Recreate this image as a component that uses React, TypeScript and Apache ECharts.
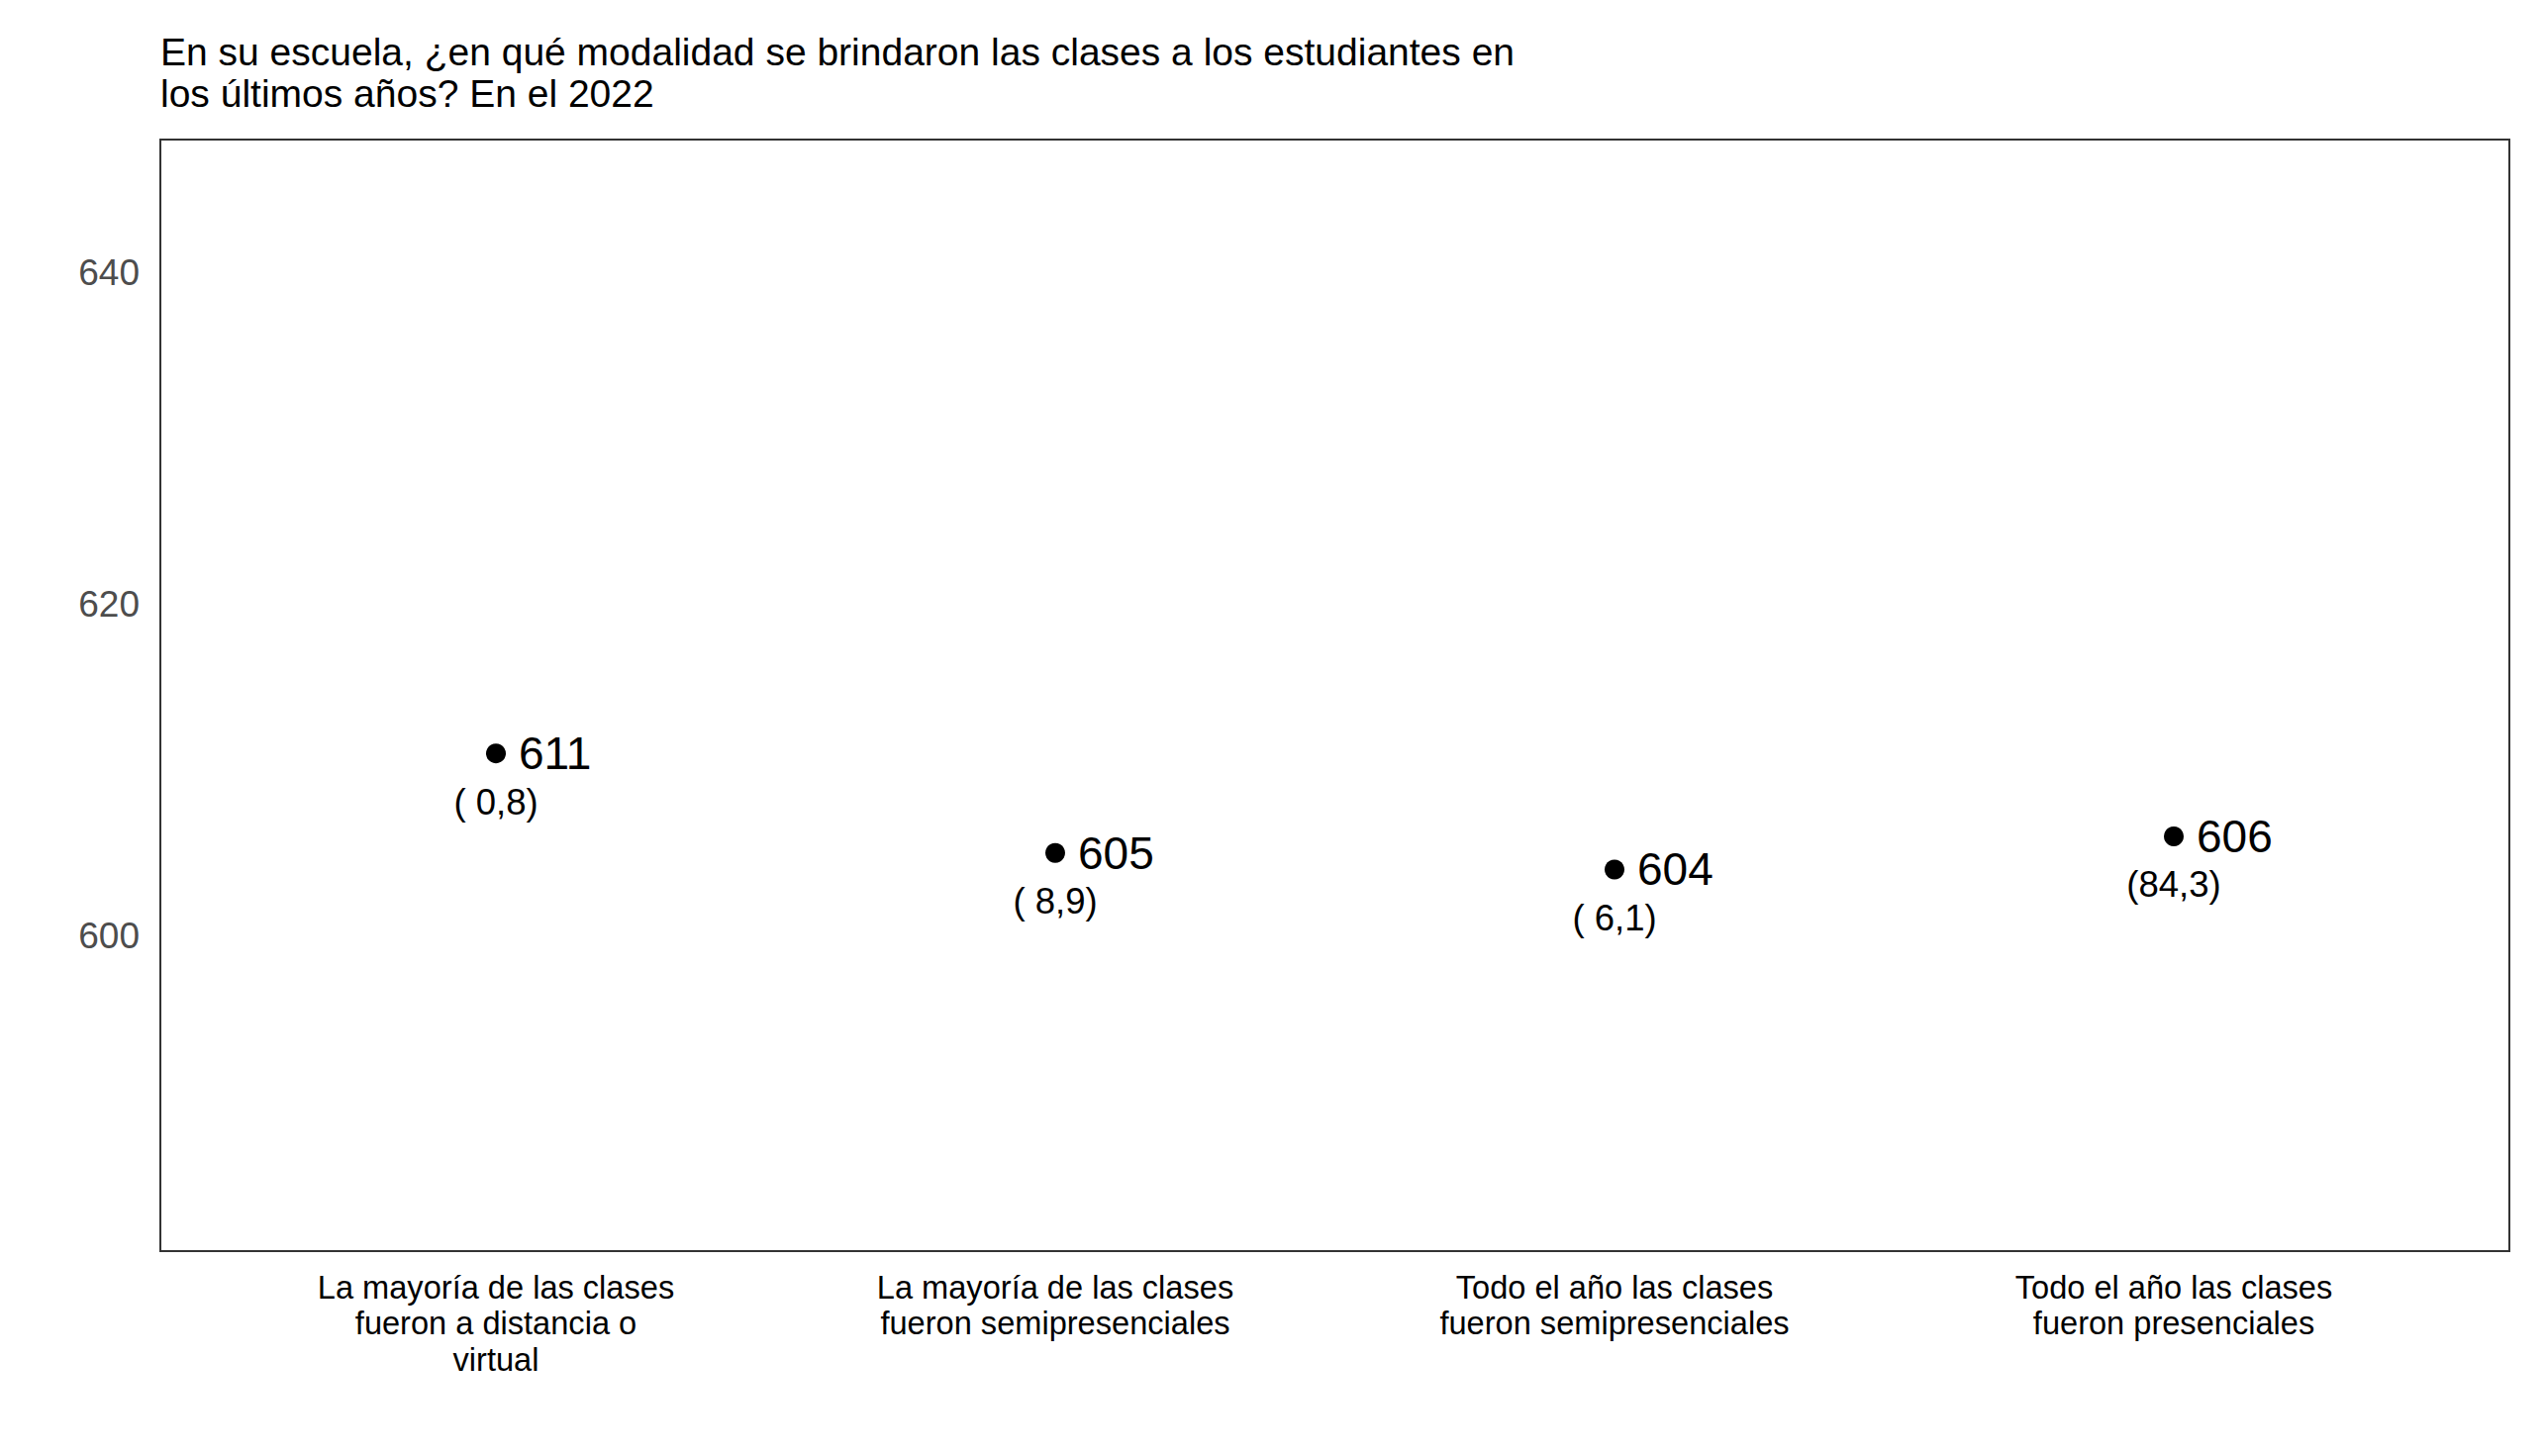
import React, { useEffect, useRef } from "react";
import * as echarts from "echarts";

const titleText =
  "En su escuela, ¿en qué modalidad se brindaron las clases a los estudiantes en\nlos últimos años? En el 2022";

const categories = [
  "La mayoría de las clases\nfueron a distancia o\nvirtual",
  "La mayoría de las clases\nfueron semipresenciales",
  "Todo el año las clases\nfueron semipresenciales",
  "Todo el año las clases\nfueron presenciales",
];

const scores = [611, 605, 604, 606];

const shareLabels = ["( 0,8)", "( 8,9)", "( 6,1)", "(84,3)"];

const yTicks = [600, 620, 640];

const FONT = "'Liberation Sans', Arial, sans-serif";

export default function App() {
  const ref = useRef<HTMLDivElement>(null);

  useEffect(() => {
    document.body.style.margin = "0";
    if (!ref.current) return;
    const chart = echarts.init(ref.current, null, { renderer: "svg" });
    const positions = categories.map((_, i) => i + 1);
    const pts = scores.map((v, i) => [positions[i], v]);

    chart.setOption({
      animation: false,
      backgroundColor: "#ffffff",
      textStyle: { fontFamily: FONT },
      title: {
        text: titleText,
        left: 162,
        top: 31,
        padding: 0,
        textStyle: {
          fontFamily: FONT,
          fontSize: 39,
          lineHeight: 42.6,
          fontWeight: "normal",
          color: "#000000",
        },
      },
      grid: {
        left: 162,
        right: 36,
        top: 141,
        bottom: 207,
        show: true,
        borderColor: "#333333",
        borderWidth: 2,
        backgroundColor: "#ffffff",
      },
      xAxis: {
        type: "value",
        min: 0.4,
        max: 4.6,
        axisLine: { show: false },
        axisTick: { show: false },
        splitLine: { show: false },
        axisLabel: {
          customValues: positions,
          formatter: (v: number) => categories[Math.round(v) - 1] ?? "",
          fontFamily: FONT,
          fontSize: 32.6,
          lineHeight: 36.5,
          color: "#000000",
          margin: 18,
          align: "center",
        },
      },
      yAxis: {
        type: "value",
        min: 581,
        max: 648,
        axisLine: { show: false },
        axisTick: { show: false },
        splitLine: { show: false },
        axisLabel: {
          customValues: yTicks,
          fontFamily: FONT,
          fontSize: 37,
          color: "#4d4d4d",
          margin: 21,
        },
      },
      series: [
        {
          type: "scatter",
          data: pts,
          symbol: "circle",
          symbolSize: 20,
          itemStyle: { color: "#000000", opacity: 1 },
          label: {
            show: true,
            position: "right",
            distance: 13,
            formatter: (p: any) => String(p.value[1]),
            fontFamily: FONT,
            fontSize: 46,
            color: "#000000",
            opacity: 1,
          },
          z: 3,
        },
        {
          type: "scatter",
          data: pts,
          symbol: "circle",
          symbolSize: 1,
          itemStyle: { color: "#ffffff", opacity: 0 },
          label: {
            show: true,
            position: "inside",
            offset: [0, 49],
            formatter: (p: any) => shareLabels[p.dataIndex],
            fontFamily: FONT,
            fontSize: 36.5,
            color: "#000000",
            opacity: 1,
          },
          z: 2,
        },
      ],
    });

    return () => chart.dispose();
  }, []);

  return (
    <div
      ref={ref}
      style={{ position: "absolute", left: 0, top: 0, width: 2571, height: 1471 }}
    />
  );
}
